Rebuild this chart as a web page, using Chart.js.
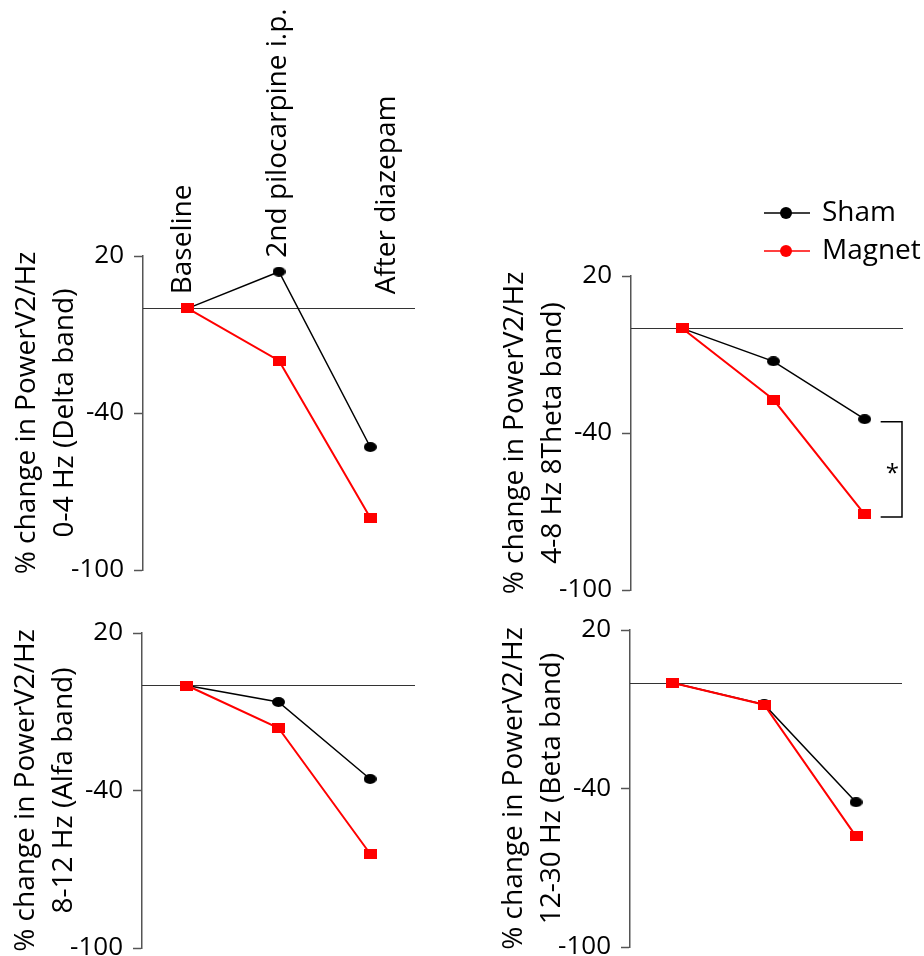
<!DOCTYPE html>
<html>
<head>
<meta charset="utf-8">
<script src="https://cdn.jsdelivr.net/npm/chart.js@4.4.1/dist/chart.umd.min.js"></script>
<style>
  html, body { margin: 0; padding: 0; background: #fff; overflow: hidden; }
  body { width: 924px; height: 956px; position: relative; }
  canvas { position: absolute; }
</style>
</head>
<body>
<canvas id="delta" width="440" height="600" style="left:0;top:0"></canvas>
<canvas id="theta" width="464" height="620" style="left:460px;top:0"></canvas>
<canvas id="alfa" width="440" height="380" style="left:0;top:600px"></canvas>
<canvas id="beta" width="464" height="380" style="left:460px;top:600px"></canvas>
<script>
// values (% change)
const categories = ['Baseline', '2nd pilocarpine i.p.', 'After diazepam']
const seriesNames = ['Sham', 'Magnet']
const yTicks = [20, -40, -100]

const deltaSham = [0, 14, -53]
const deltaMagnet = [0, -20, -80]
const thetaSham = [0, -12.6, -34.7]
const thetaMagnet = [0, -27.2, -71.1]
const alfaSham = [0, -6.3, -35.6]
const alfaMagnet = [0, -16.2, -64.1]
const betaSham = [0, -8.2, -45.2]
const betaMagnet = [0, -8.3, -58.1]

const FONT = '"Open Sans", sans-serif'
Chart.defaults.font.family = FONT
Chart.defaults.color = '#000'

// little marker images (the original markers are a bit wider than tall)
function markerImg(w, h, color, round) {
  const c = document.createElement('canvas')
  c.width = w
  c.height = h
  const g = c.getContext('2d')
  g.fillStyle = color
  if (round) {
    g.beginPath()
    g.ellipse(w / 2, h / 2, w / 2, h / 2, 0, 0, Math.PI * 2)
    g.fill()
  } else {
    g.fillRect(0, 0, w, h)
  }
  return c
}
const shamMarker = markerImg(13, 10, '#000', true)
const magnetMarker = markerImg(13, 10, '#ff0000', false)

const zeroLine = {
  id: 'zeroLine',
  beforeDatasetsDraw(chart) {
    const {ctx, chartArea, scales: {y}} = chart
    const py = Math.round(y.getPixelForValue(0)) + 0.5
    ctx.save()
    ctx.strokeStyle = '#333'
    ctx.lineWidth = 1
    ctx.beginPath()
    ctx.moveTo(chartArea.left, py)
    ctx.lineTo(chartArea.right, py)
    ctx.stroke()
    ctx.restore()
  }
}

// condition names written above the first panel
const labelShift = [-5, -1, 17]
const topLabels = {
  id: 'topLabels',
  afterDatasetsDraw(chart) {
    const {ctx, scales: {x, y}} = chart
    const zeroY = y.getPixelForValue(0)
    categories.forEach((c, i) => {
      const pys = chart.data.datasets.map(d => y.getPixelForValue(d.data[i].y))
      const bottom = Math.min(zeroY, ...pys) - 14
      ctx.save()
      ctx.translate(x.getPixelForValue(i + 1) + labelShift[i], bottom)
      ctx.rotate(-Math.PI / 2)
      ctx.font = '28px ' + FONT
      ctx.fillStyle = '#000'
      ctx.textAlign = 'left'
      ctx.textBaseline = 'middle'
      ctx.fillText(c, 0, 0)
      ctx.restore()
    })
  }
}

// significance bracket between the last points
const bracket = {
  id: 'bracket',
  afterDatasetsDraw(chart) {
    const {ctx, chartArea, scales: {x, y}} = chart
    const ds = chart.data.datasets
    const y1 = y.getPixelForValue(ds[0].data[2].y) + 2.5
    const y2 = y.getPixelForValue(ds[1].data[2].y) + 2.5
    const x1 = x.getPixelForValue(3) + 16
    const x2 = chartArea.right - 1
    ctx.save()
    ctx.strokeStyle = '#000'
    ctx.lineWidth = 1.5
    ctx.beginPath()
    ctx.moveTo(x1, y1)
    ctx.lineTo(x2, y1)
    ctx.lineTo(x2, y2)
    ctx.lineTo(x1, y2)
    ctx.stroke()
    ctx.font = '24px ' + FONT
    ctx.fillStyle = '#000'
    ctx.textAlign = 'center'
    ctx.textBaseline = 'middle'
    ctx.fillText('*', (x1 + x2) / 2 + 1, (y1 + y2) / 2 + 5)
    ctx.restore()
  }
}

const lineLegend = {
  id: 'lineLegend',
  afterDraw(chart) {
    const ctx = chart.ctx
    const x0 = 304, y0 = 213, gap = 38
    chart.data.datasets.forEach((d, i) => {
      const yy = y0 + i * gap
      ctx.save()
      ctx.strokeStyle = d.borderColor
      ctx.lineWidth = 1.5
      ctx.beginPath()
      ctx.moveTo(x0, yy)
      ctx.lineTo(x0 + 46, yy)
      ctx.stroke()
      ctx.fillStyle = d.borderColor
      ctx.beginPath()
      ctx.arc(x0 + 22, yy, 6, 0, Math.PI * 2)
      ctx.fill()
      ctx.font = '28px ' + FONT
      ctx.fillStyle = '#000'
      ctx.textAlign = 'left'
      ctx.textBaseline = 'middle'
      ctx.fillText(d.label, x0 + 58, yy)
      ctx.restore()
    })
  }
}

function toPoints(vals) {
  return vals.map((v, i) => ({x: i + 1, y: v}))
}

function panel(id, title, sham, magnet, xmin, xmax, padding, extra) {
  const pieCtx = document.getElementById(id)
  return new Chart(pieCtx, {
    type: 'line',
    data: {
      datasets: [
        {
          label: seriesNames[0],
          data: toPoints(sham),
          borderColor: '#000',
          backgroundColor: '#000',
          borderWidth: 1.5,
          pointStyle: shamMarker,
          order: 1,
        },
        {
          label: seriesNames[1],
          data: toPoints(magnet),
          borderColor: '#ff0000',
          backgroundColor: '#ff0000',
          borderWidth: 2,
          pointStyle: magnetMarker,
          order: 0,
        },
      ],
    },
    options: {
      responsive: false,
      animation: false,
      layout: {padding: padding},
      plugins: {legend: {display: false}, tooltip: {enabled: false}},
      scales: {
        x: {type: 'linear', display: false, min: xmin, max: xmax},
        y: {
          min: yTicks[2],
          max: yTicks[0],
          afterBuildTicks: s => { s.ticks = yTicks.map(v => ({value: v})) },
          afterFit: s => { s.width = 140 },
          border: {color: '#555', width: 1.5},
          grid: {drawOnChartArea: false, tickLength: 9, tickColor: '#555', tickWidth: 1.5},
          ticks: {padding: 10, font: {size: 26}, color: '#000'},
          title: {
            display: true,
            text: title,
            font: {size: 28, lineHeight: 1.35},
            color: '#000',
            padding: {top: 5, bottom: 0},
          },
        },
      },
    },
    plugins: [zeroLine].concat(extra || []),
  })
}

panel('delta', ['% change in PowerV2/Hz', '0-4 Hz (Delta band)'], deltaSham, deltaMagnet,
  0.51, 3.49, {left: 3, top: 256, right: 25, bottom: 30}, [topLabels])
panel('theta', ['% change in PowerV2/Hz', '4-8 Hz 8Theta band)'], thetaSham, thetaMagnet,
  0.44, 3.42, {left: 31, top: 276, right: 21, bottom: 30}, [bracket, lineLegend])
panel('alfa', ['% change in PowerV2/Hz', '8-12 Hz (Alfa band)'], alfaSham, alfaMagnet,
  0.51, 3.49, {left: 2, top: 33, right: 25, bottom: 32})
panel('beta', ['% change in PowerV2/Hz', '12-30 Hz (Beta band)'], betaSham, betaMagnet,
  0.54, 3.5, {left: 30, top: 30, right: 22, bottom: 33})
</script>
</body>
</html>
